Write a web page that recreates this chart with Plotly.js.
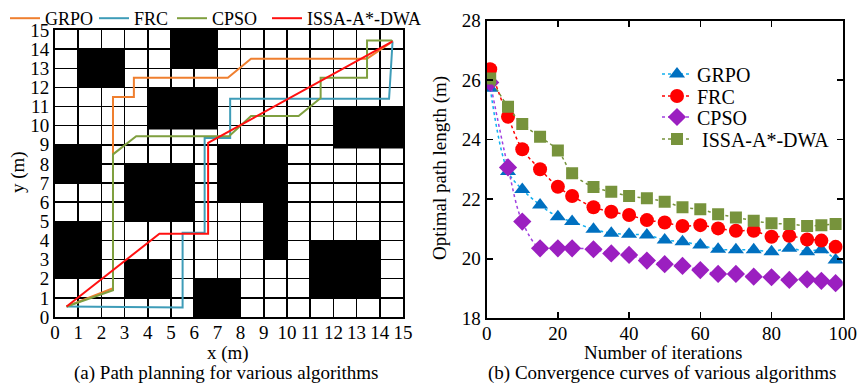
<!DOCTYPE html>
<html><head><meta charset="utf-8">
<script src="https://cdn.plot.ly/plotly-3.0.1.min.js"></script>
<style>html,body{margin:0;padding:0;background:#fff}</style>
</head><body><div id="chart" style="width:858px;height:386px"></div>
<script>
// ---- Left panel: obstacles (grid cells) ----
const obsX0 = [5, 1, 4,   12,  0, 3, 7, 9, 0, 3, 6, 11];
const obsX1 = [7, 3, 7,   15,  2, 6, 10, 10, 2, 5, 8, 14];
const obsY0 = [13, 12, 9.8, 8.8, 7, 5, 6, 3, 2, 1, 0, 1];
const obsY1 = [15, 14, 12,  11,  9, 8, 9, 6, 5, 3, 2, 4];

// ---- Left panel: paths ----
const grpoX = [0.5, 2.5, 2.5, 3.4, 3.4, 7.45, 8.45, 13.45, 14.55];
const grpoY = [0.55, 1.5, 11.5, 11.5, 12.5, 12.5, 13.5, 13.5, 14.4];
const frcX  = [0.5, 5.5, 5.5, 6.45, 6.45, 7.55, 7.55, 14.4, 14.55];
const frcY  = [0.55, 0.5, 4.4, 4.4, 9.35, 9.35, 11.4, 11.4, 14.4];
const cpsoX = [0.5, 2.5, 2.5, 3.5, 7.5, 8.45, 10.5, 11.45, 11.45, 13.45, 13.45, 14.5, 14.55];
const cpsoY = [0.55, 1.4, 8.5, 9.45, 9.45, 10.5, 10.5, 11.45, 12.5, 12.5, 14.45, 14.45, 14.4];
const issaX = [0.5, 4.5, 6.6, 6.6, 14.55];
const issaY = [0.55, 4.35, 4.35, 9.1, 14.4];

// ---- Right panel: convergence ----
const iters = [1, 6, 10, 15, 20, 24, 30, 35, 40, 45, 50, 55, 60, 65, 70, 75, 80, 85, 90, 94, 98];
const grpoConv = [25.73, 22.93, 22.33, 21.81, 21.41, 21.25, 20.99, 20.86, 20.82, 20.80, 20.63, 20.57, 20.46, 20.32, 20.30, 20.30, 20.24, 20.35, 20.24, 20.30, 19.96];
const frcConv  = [26.37, 24.77, 23.68, 23.01, 22.42, 22.11, 21.73, 21.58, 21.47, 21.30, 21.22, 21.10, 21.13, 21.02, 20.94, 20.94, 20.74, 20.77, 20.65, 20.61, 20.40];
const cpsoConv = [25.92, 23.07, 21.25, 20.35, 20.35, 20.35, 20.32, 20.18, 20.13, 19.94, 19.82, 19.76, 19.62, 19.49, 19.49, 19.40, 19.38, 19.29, 19.31, 19.26, 19.18];
const issaConv = [26.06, 25.11, 24.53, 24.10, 23.64, 22.87, 22.41, 22.25, 22.11, 22.03, 21.92, 21.73, 21.66, 21.50, 21.39, 21.28, 21.19, 21.17, 21.10, 21.13, 21.17];

const names = ['GRPO', 'FRC', 'CPSO', 'ISSA-A*-DWA'];
const pathColors = ['#EF7F2F', '#3E9CB8', '#7F9F3F', '#FF1010'];
const convMarkerColors = ['#0070C0', '#FF0000', '#9B1FC0', '#77933C'];
const convLineColors = ['#10B0F0', '#FF0000', '#A040E0', '#77933C'];
const symbols = ['triangle-up', 'circle', 'diamond', 'square'];

const FONT = '"Liberation Serif", "Times New Roman", serif';
const FS = 19;
const W = 858, H = 386;

const pathX = [grpoX, frcX, cpsoX, issaX];
const pathY = [grpoY, frcY, cpsoY, issaY];
const convY = [grpoConv, frcConv, cpsoConv, issaConv];

// legend placement (px): left panel horizontal row, right panel column
const leftLegX = [5, 94, 172, 267];
const rightLegX = 657;
const rightLegY = [74, 96, 117, 139];

const traces = [];
for (let i = 0; i < 4; i++) {
  traces.push({
    x: pathX[i], y: pathY[i], xaxis: 'x', yaxis: 'y', type: 'scatter', mode: 'lines',
    name: names[i], legend: i === 0 ? 'legend' : 'legend' + (i + 1),
    line: {color: pathColors[i], width: 2}
  });
}
for (let i = 0; i < 4; i++) {
  traces.push({
    x: iters, y: convY[i], xaxis: 'x2', yaxis: 'y2', type: 'scatter', mode: 'lines+markers',
    name: (i === 3 ? '\u00a0' : '') + names[i], legend: 'legend' + (i + 5),
    line: {color: convLineColors[i], width: 1.5, dash: 'dot', shape: 'spline', smoothing: 1},
    marker: {symbol: symbols[i], size: (i === 3 ? 12 : 14), color: convMarkerColors[i]}
  });
}

const shapes = obsX0.map((x0, i) => ({
  type: 'rect', xref: 'x', yref: 'y', x0: x0, x1: obsX1[i], y0: obsY0[i], y1: obsY1[i],
  fillcolor: '#000', line: {width: 0}, layer: 'below'
}));

const tickFont = {family: FONT, size: FS, color: '#000'};
const ann = (text, x, y, angle) => ({
  text: text, xref: 'paper', yref: 'paper', x: x / W, y: 1 - y / H, xanchor: 'center', yanchor: 'middle',
  showarrow: false, textangle: angle || 0, font: {family: FONT, size: FS, color: '#000'}
});
const legTop = (px) => ({
  orientation: 'v', x: px / W, y: 1, xanchor: 'left', yanchor: 'top',
  bgcolor: 'rgba(0,0,0,0)', borderwidth: 0, font: {family: FONT, size: 18, color: '#000'}
});
const legMid = (px, py) => ({
  orientation: 'v', x: px / W, y: 1 - py / H, xanchor: 'left', yanchor: 'middle',
  bgcolor: 'rgba(0,0,0,0)', borderwidth: 0, font: {family: FONT, size: FS + 1, color: '#000'}
});

const layout = {
  width: W, height: H,
  margin: {l: 0, r: 0, t: 0, b: 0},
  paper_bgcolor: '#fff', plot_bgcolor: '#fff',
  font: {family: FONT, size: FS, color: '#000'},
  showlegend: true,
  xaxis: {
    domain: [0.0641, 0.4697], anchor: 'y', range: [0, 15], dtick: 1, tick0: 0,
    showgrid: true, gridcolor: '#000', gridwidth: 1.5, zeroline: false,
    showline: true, linecolor: '#000', linewidth: 2, mirror: true, ticks: '',
    ticklabelstandoff: -3, tickfont: tickFont, fixedrange: true
  },
  yaxis: {
    domain: [0.1788, 0.9223], anchor: 'x', range: [0, 15], dtick: 1, tick0: 0,
    showgrid: true, gridcolor: '#000', gridwidth: 1.5, zeroline: false,
    showline: true, linecolor: '#000', linewidth: 2, mirror: true, ticks: '',
    tickfont: tickFont, fixedrange: true
  },
  xaxis2: {
    domain: [0.5672, 0.9822], anchor: 'y2', range: [0, 100], dtick: 20, tick0: 0,
    showgrid: false, zeroline: false, showline: true, linecolor: '#000', linewidth: 2,
    mirror: 'ticks', ticks: 'inside', ticklen: 6, tickwidth: 1.5, tickcolor: '#000',
    ticklabelstandoff: -3, tickfont: tickFont, fixedrange: true
  },
  yaxis2: {
    domain: [0.1754, 0.9464], anchor: 'x2', range: [18, 28], dtick: 2, tick0: 18,
    showgrid: false, zeroline: false, showline: true, linecolor: '#000', linewidth: 2,
    mirror: 'ticks', ticks: 'inside', ticklen: 6, tickwidth: 1.5, tickcolor: '#000',
    tickfont: tickFont, fixedrange: true
  },
  legend: legTop(leftLegX[0]),
  legend2: legTop(leftLegX[1]),
  legend3: legTop(leftLegX[2]),
  legend4: legTop(leftLegX[3]),
  legend5: legMid(rightLegX, rightLegY[0]),
  legend6: legMid(rightLegX, rightLegY[1]),
  legend7: legMid(rightLegX, rightLegY[2]),
  legend8: legMid(rightLegX, rightLegY[3]),
  shapes: shapes,
  annotations: [
    ann('x (m)', 228, 353),
    ann('(a) Path planning for various algorithms', 226, 373),
    ann('y (m)', 18, 172, -90),
    ann('Number of iterations', 663, 352),
    ann('(b) Convergence curves of various algorithms', 662, 373),
    ann('Optimal path length (m)', 440, 168, -90)
  ]
};

Plotly.newPlot('chart', traces, layout, {displayModeBar: false, staticPlot: true});
</script>
</body></html>
